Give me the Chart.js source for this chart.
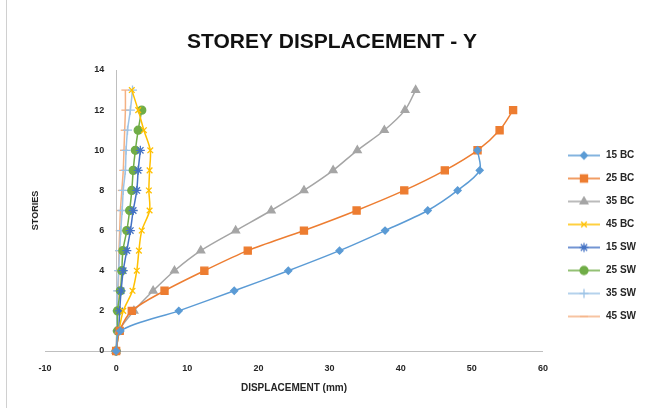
<!DOCTYPE html>
<html>
<head>
<meta charset="utf-8">
<script src="https://cdn.jsdelivr.net/npm/chart.js@4.4.1/dist/chart.umd.min.js"></script>
<style>
  html, body { margin: 0; padding: 0; background: #ffffff; }
  #wrap { width: 650px; height: 408px; position: relative; }
</style>
</head>
<body>
<div id="wrap"><canvas id="chart" width="650" height="408"></canvas></div>
<script>
// Storey levels (vertical axis) and lateral displacement per model, in mm
const stories = [0, 1, 2, 3, 4, 5, 6, 7, 8, 9, 10, 11, 12, 13];
const seriesNames = ['15 BC', '25 BC', '35 BC', '45 BC', '15 SW', '25 SW', '35 SW', '45 SW'];

const disp15BC = [0, 0.6, 8.8, 16.6, 24.2, 31.4, 37.8, 43.8, 48.0, 51.1, 50.8];
const disp25BC = [0, 0.5, 2.2, 6.8, 12.4, 18.5, 26.4, 33.8, 40.5, 46.2, 50.8, 53.9, 55.8];
const disp35BC = [0, 0.4, 2.5, 5.2, 8.2, 11.9, 16.8, 21.8, 26.4, 30.5, 33.9, 37.7, 40.6, 42.1];
const disp45BC = [0, 0.4, 1.0, 2.3, 2.9, 3.2, 3.6, 4.7, 4.6, 4.7, 4.8, 3.9, 3.1, 2.2];
const disp15SW = [0, 0.35, 0.5, 0.7, 1.0, 1.5, 2.0, 2.4, 2.9, 3.1, 3.4];
const disp25SW = [0, 0.2, 0.2, 0.6, 0.8, 0.95, 1.5, 1.9, 2.2, 2.4, 2.7, 3.1, 3.6];
const disp35SW = [0, 0.1, 0.1, 0.2, 0.35, 0.5, 0.65, 0.85, 1.0, 1.3, 1.4, 1.6, 2.0, 2.3];
const disp45SW = [0, 0.1, 0.2, 0.3, 0.35, 0.4, 0.5, 0.6, 0.8, 1.0, 1.1, 1.2, 1.3, 1.3];

const xTickValues = [-10, 0, 10, 20, 30, 40, 50, 60];
const yTickValues = [0, 2, 4, 6, 8, 10, 12, 14];

const seriesValues = [disp15BC, disp25BC, disp35BC, disp45BC, disp15SW, disp25SW, disp35SW, disp45SW];
const seriesColors = ['#5B9BD5', '#ED7D31', '#A5A5A5', '#FFC000', '#4472C4', '#70AD47', '#9DC3E6', '#F4B183'];
const seriesMarkers = ['rectRot', 'rect', 'triangle', 'crossRot', 'star', 'circle', 'cross', 'line'];
const seriesRadius = [3.5, 5, 4.5, 4, 4.5, 4, 4.5, 4];

const TEXT = '#262626';
const FONT = "'Liberation Sans', Arial, sans-serif";

// Linear scale whose tick labels keep their padding when the axis is
// anchored to a data value of another scale (here: x = 0).
class AnchoredLinearScale extends Chart.LinearScale {
  _computeLabelItems(chartArea) {
    const items = super._computeLabelItems(chartArea);
    const gap = this.options.ticks.padding;
    items.forEach((it) => { it.options.translation[0] -= gap; });
    return items;
  }
}
AnchoredLinearScale.id = 'anchoredLinear';
AnchoredLinearScale.defaults = {};
Chart.register(AnchoredLinearScale);

const datasets = seriesNames.map((name, i) => ({
  label: name,
  data: seriesValues[i].map((v, k) => ({ x: v, y: stories[k] })),
  showLine: true,
  tension: 0.3,
  borderColor: seriesColors[i],
  backgroundColor: seriesColors[i],
  borderWidth: 1.5,
  pointStyle: seriesMarkers[i],
  pointRadius: seriesRadius[i],
  pointBorderWidth: 1.3,
  pointBackgroundColor: seriesColors[i],
  pointBorderColor: seriesColors[i],
  clip: false
}));

// Legend swatch: a short line with the series marker in the middle
const iconCache = {};
function legendIcon(ds) {
  if (iconCache[ds.label]) return iconCache[ds.label];
  const c = document.createElement('canvas');
  c.width = 34; c.height = 12;
  const g = c.getContext('2d');
  g.strokeStyle = ds.borderColor;
  g.fillStyle = ds.borderColor;
  g.lineWidth = 1.5;
  g.beginPath(); g.moveTo(1, 6); g.lineTo(33, 6); g.stroke();
  g.lineWidth = ds.pointBorderWidth;
  Chart.helpers.drawPoint(g, { pointStyle: ds.pointStyle, rotation: 0, radius: ds.pointRadius, borderWidth: ds.pointBorderWidth }, 17, 6);
  iconCache[ds.label] = c;
  return c;
}

// White page with the light frame line on the left edge
const framePlugin = {
  id: 'frame',
  beforeDraw(chart) {
    const ctx = chart.ctx;
    ctx.save();
    ctx.fillStyle = '#ffffff';
    ctx.fillRect(0, 0, chart.width, chart.height);
    ctx.strokeStyle = '#d0d0d0';
    ctx.lineWidth = 1;
    ctx.beginPath(); ctx.moveTo(6.5, 0); ctx.lineTo(6.5, chart.height); ctx.stroke();
    ctx.restore();
  }
};

new Chart(document.getElementById('chart'), {
  type: 'scatter',
  data: { datasets },
  plugins: [framePlugin],
  options: {
    responsive: false,
    animation: false,
    layout: { padding: { left: 18, right: 4, top: 0, bottom: 0 } },
    plugins: {
      title: {
        display: true,
        text: 'STOREY DISPLACEMENT - Y',
        color: '#111111',
        font: { family: FONT, size: 21, weight: 'bold' },
        padding: { top: 29.4, bottom: 15.4 }
      },
      legend: {
        display: true,
        position: 'right',
        maxWidth: 120,
        title: { display: true, text: '', font: { family: FONT, size: 10 }, padding: { top: 0, bottom: 52 } },
        labels: {
          usePointStyle: true,
          pointStyleWidth: 34,
          color: TEXT,
          font: { family: FONT, size: 10, weight: 'bold' },
          padding: 13,
          generateLabels(chart) {
            const items = Chart.defaults.plugins.legend.labels.generateLabels(chart);
            items.forEach((it) => {
              it.pointStyle = legendIcon(chart.data.datasets[it.datasetIndex]);
              it.rotation = 0;
            });
            return items;
          }
        }
      },
      tooltip: { enabled: false }
    },
    scales: {
      x: {
        type: 'linear',
        position: 'bottom',
        min: xTickValues[0],
        max: xTickValues[xTickValues.length - 1],
        afterBuildTicks(scale) { scale.ticks = xTickValues.map(v => ({ value: v })); },
        afterFit(scale) { scale.height = 57; },
        grid: { display: false, drawTicks: false },
        border: { display: true, color: '#bfbfbf', width: 1 },
        ticks: { color: TEXT, font: { family: FONT, size: 9, weight: 'bold' }, padding: 12 },
        title: {
          display: true,
          text: 'DISPLACEMENT (mm)',
          color: TEXT,
          font: { family: FONT, size: 10, weight: 'bold' },
          padding: { top: 4, bottom: 14 }
        }
      },
      y: {
        type: 'anchoredLinear',
        position: { x: 0 },
        min: yTickValues[0],
        max: yTickValues[yTickValues.length - 1],
        afterBuildTicks(scale) { scale.ticks = yTickValues.map(v => ({ value: v })); },
        grid: { display: false, drawTicks: false },
        border: { display: true, color: '#bfbfbf', width: 1 },
        ticks: { color: TEXT, font: { family: FONT, size: 9, weight: 'bold' }, padding: 12 }
      },
      yTitle: {
        type: 'linear',
        position: 'left',
        display: true,
        grid: { display: false, drawTicks: false },
        border: { display: false },
        ticks: { display: false },
        title: {
          display: true,
          text: 'STORIES',
          color: TEXT,
          font: { family: FONT, size: 9, weight: 'bold' },
          padding: { top: 12.6, bottom: 3.6 }
        }
      },
      yGap: {
        type: 'linear',
        position: 'right',
        display: true,
        grid: { display: false, drawTicks: false },
        border: { display: false },
        ticks: { display: false },
        afterFit(scale) { scale.width = 11; }
      }
    }
  }
});
</script>
</body>
</html>
